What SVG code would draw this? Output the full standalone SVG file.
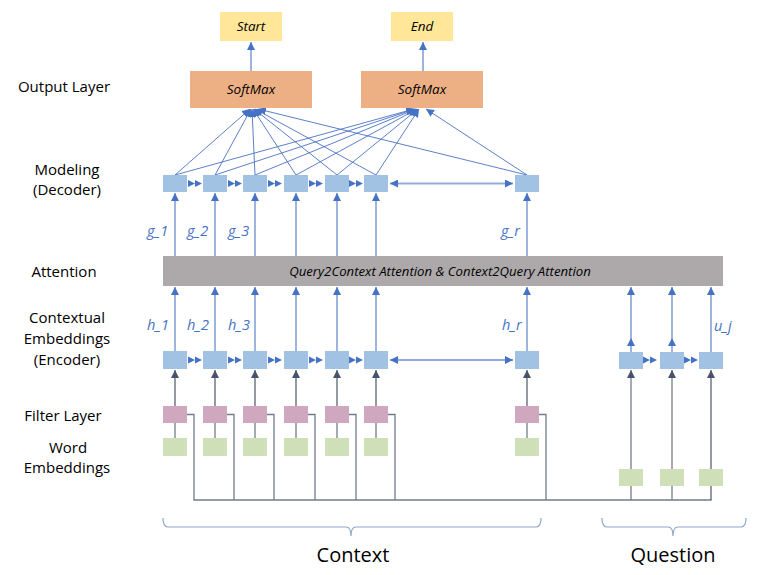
<svg xmlns="http://www.w3.org/2000/svg" width="784" height="575" viewBox="0 0 784 575">
<style>
.lbl{font-family:"Open Sans","Liberation Sans",sans-serif;font-size:15px;fill:#000;text-anchor:middle}
.big{font-family:"Open Sans","Liberation Sans",sans-serif;font-size:20px;fill:#000;text-anchor:middle}
.it{font-family:"Open Sans","Liberation Sans",sans-serif;font-style:italic;font-size:13.5px;fill:#000;text-anchor:middle}
.var{font-family:"Open Sans","Liberation Sans",sans-serif;font-style:italic;font-size:14.5px;fill:#4472C4}
.out{fill:#FFE699}
.sm{fill:#EDB085}
.blue{fill:#A2C2E4}
.pink{fill:#CFA8C0}
.green{fill:#CFE0B9}
.att{fill:#ADA9AA}
.ba{stroke:#5B82C8;stroke-width:1.2;fill:none}
.fan{stroke:#4A72C2;stroke-width:0.9;fill:none}
.da{stroke:#4E586A;stroke-width:1.2;fill:none}
.gr{stroke:#737B8A;stroke-width:1.3;fill:none}
.brace{stroke:#8EA6CC;stroke-width:1.2;fill:none}
.chain{fill:#4472C4}
.long{stroke:#93ABD8;stroke-width:2;fill:none}
</style>
<defs>
<marker id="ab" markerUnits="userSpaceOnUse" markerWidth="9" markerHeight="8" refX="8" refY="4" orient="auto-start-reverse">
<path d="M0,0 L8,4 L0,8 z" fill="#4472C4"/>
</marker>
<marker id="ad" markerUnits="userSpaceOnUse" markerWidth="9" markerHeight="8" refX="8" refY="4" orient="auto">
<path d="M0,0 L8,4 L0,8 z" fill="#44546A"/>
</marker>
</defs>

<g id="row-labels">
<text class="lbl" x="64" y="92">Output Layer</text>
<text class="lbl" x="67" y="175">Modeling</text>
<text class="lbl" x="67" y="195">(Decoder)</text>
<text class="lbl" x="64" y="277">Attention</text>
<text class="lbl" x="67" y="323">Contextual</text>
<text class="lbl" x="67" y="344">Embeddings</text>
<text class="lbl" x="67" y="365">(Encoder)</text>
<text class="lbl" x="63" y="421">Filter Layer</text>
<text class="lbl" x="68" y="453">Word</text>
<text class="lbl" x="67" y="473">Embeddings</text>
</g>

<g id="connectors">
<line class="ba" x1="251" y1="71" x2="251" y2="42" marker-end="url(#ab)"/>
<line class="ba" x1="423" y1="71" x2="423" y2="42" marker-end="url(#ab)"/>
<line class="fan" x1="175" y1="175" x2="250" y2="109" marker-end="url(#ab)"/>
<line class="fan" x1="215" y1="175" x2="251" y2="109" marker-end="url(#ab)"/>
<line class="fan" x1="255" y1="175" x2="252" y2="109" marker-end="url(#ab)"/>
<line class="fan" x1="296" y1="175" x2="253" y2="109" marker-end="url(#ab)"/>
<line class="fan" x1="337" y1="175" x2="254" y2="109" marker-end="url(#ab)"/>
<line class="fan" x1="376" y1="175" x2="255" y2="109" marker-end="url(#ab)"/>
<line class="fan" x1="527" y1="175" x2="258" y2="109" marker-end="url(#ab)"/>
<line class="fan" x1="175" y1="175" x2="414" y2="109" marker-end="url(#ab)"/>
<line class="fan" x1="215" y1="175" x2="415" y2="109" marker-end="url(#ab)"/>
<line class="fan" x1="255" y1="175" x2="416" y2="109" marker-end="url(#ab)"/>
<line class="fan" x1="296" y1="175" x2="417" y2="109" marker-end="url(#ab)"/>
<line class="fan" x1="337" y1="175" x2="418" y2="109" marker-end="url(#ab)"/>
<line class="fan" x1="376" y1="175" x2="419" y2="109" marker-end="url(#ab)"/>
<line class="fan" x1="527" y1="175" x2="426" y2="109" marker-end="url(#ab)"/>
<path class="chain" d="M188,180 L195,183.5 L188,187 z M195,180 L202,183.5 L195,187 z"/>
<path class="chain" d="M228,180 L235,183.5 L228,187 z M235,180 L242,183.5 L235,187 z"/>
<path class="chain" d="M268,180 L275,183.5 L268,187 z M275,180 L282,183.5 L275,187 z"/>
<path class="chain" d="M309,180 L316,183.5 L309,187 z M316,180 L323,183.5 L316,187 z"/>
<path class="chain" d="M349,180 L356,183.5 L349,187 z M356,180 L363,183.5 L356,187 z"/>
<line class="long" x1="390" y1="183.5" x2="513" y2="183.5" marker-start="url(#ab)" marker-end="url(#ab)"/>
<line class="ba" x1="175" y1="256" x2="175" y2="193" marker-end="url(#ab)"/>
<line class="ba" x1="215" y1="256" x2="215" y2="193" marker-end="url(#ab)"/>
<line class="ba" x1="255" y1="256" x2="255" y2="193" marker-end="url(#ab)"/>
<line class="ba" x1="296" y1="256" x2="296" y2="193" marker-end="url(#ab)"/>
<line class="ba" x1="337" y1="256" x2="337" y2="193" marker-end="url(#ab)"/>
<line class="ba" x1="376" y1="256" x2="376" y2="193" marker-end="url(#ab)"/>
<line class="ba" x1="527" y1="256" x2="527" y2="193" marker-end="url(#ab)"/>
<line class="ba" x1="175" y1="351" x2="175" y2="287" marker-end="url(#ab)"/>
<line class="ba" x1="215" y1="351" x2="215" y2="287" marker-end="url(#ab)"/>
<line class="ba" x1="255" y1="351" x2="255" y2="287" marker-end="url(#ab)"/>
<line class="ba" x1="296" y1="351" x2="296" y2="287" marker-end="url(#ab)"/>
<line class="ba" x1="337" y1="351" x2="337" y2="287" marker-end="url(#ab)"/>
<line class="ba" x1="376" y1="351" x2="376" y2="287" marker-end="url(#ab)"/>
<line class="ba" x1="527" y1="351" x2="527" y2="287" marker-end="url(#ab)"/>
<line class="ba" x1="631" y1="352" x2="631" y2="338" marker-end="url(#ab)"/>
<line class="ba" x1="631" y1="338" x2="631" y2="287" marker-end="url(#ab)"/>
<line class="ba" x1="672" y1="352" x2="672" y2="338" marker-end="url(#ab)"/>
<line class="ba" x1="672" y1="338" x2="672" y2="287" marker-end="url(#ab)"/>
<line class="ba" x1="711" y1="352" x2="711" y2="287" marker-end="url(#ab)"/>
<path class="chain" d="M188,356.5 L195,360 L188,363.5 z M195,356.5 L202,360 L195,363.5 z"/>
<path class="chain" d="M228,356.5 L235,360 L228,363.5 z M235,356.5 L242,360 L235,363.5 z"/>
<path class="chain" d="M268,356.5 L275,360 L268,363.5 z M275,356.5 L282,360 L275,363.5 z"/>
<path class="chain" d="M309,356.5 L316,360 L309,363.5 z M316,356.5 L323,360 L316,363.5 z"/>
<path class="chain" d="M349,356.5 L356,360 L349,363.5 z M356,356.5 L363,360 L356,363.5 z"/>
<line class="long" x1="390" y1="360" x2="513" y2="360" marker-start="url(#ab)" marker-end="url(#ab)"/>
<path class="chain" d="M643,356.5 L650,360 L643,363.5 z M650,356.5 L657,360 L650,363.5 z"/>
<path class="chain" d="M684,356.5 L691,360 L684,363.5 z M691,356.5 L698,360 L691,363.5 z"/>
<line class="da" x1="175" y1="406" x2="175" y2="370" marker-end="url(#ad)"/>
<line class="da" x1="215" y1="406" x2="215" y2="370" marker-end="url(#ad)"/>
<line class="da" x1="255" y1="406" x2="255" y2="370" marker-end="url(#ad)"/>
<line class="da" x1="296" y1="406" x2="296" y2="370" marker-end="url(#ad)"/>
<line class="da" x1="337" y1="406" x2="337" y2="370" marker-end="url(#ad)"/>
<line class="da" x1="376" y1="406" x2="376" y2="370" marker-end="url(#ad)"/>
<line class="da" x1="527" y1="406" x2="527" y2="370" marker-end="url(#ad)"/>
<line class="gr" x1="175" y1="423" x2="175" y2="438"/>
<line class="gr" x1="215" y1="423" x2="215" y2="438"/>
<line class="gr" x1="255" y1="423" x2="255" y2="438"/>
<line class="gr" x1="296" y1="423" x2="296" y2="438"/>
<line class="gr" x1="337" y1="423" x2="337" y2="438"/>
<line class="gr" x1="376" y1="423" x2="376" y2="438"/>
<line class="gr" x1="527" y1="423" x2="527" y2="438"/>
<path class="gr" d="M187,414.5 H194 V500"/>
<path class="gr" d="M227,414.5 H234 V500"/>
<path class="gr" d="M267,414.5 H274 V500"/>
<path class="gr" d="M308,414.5 H315 V500"/>
<path class="gr" d="M349,414.5 H356 V500"/>
<path class="gr" d="M388,414.5 H395 V500"/>
<path class="gr" d="M539,414.5 H546 V500"/>
<line class="gr" x1="193.4" y1="500" x2="711.6" y2="500"/>
<line class="gr" x1="631" y1="500" x2="631" y2="370" marker-end="url(#ad)"/>
<line class="gr" x1="672" y1="500" x2="672" y2="370" marker-end="url(#ad)"/>
<line class="da" x1="711" y1="500" x2="711" y2="370" marker-end="url(#ad)"/>
</g>

<g id="start"><rect class="out" x="220" y="12" width="62" height="29"/><text class="it" x="251" y="31">Start</text></g>
<g id="end"><rect class="out" x="391" y="12" width="62" height="29"/><text class="it" x="422" y="31">End</text></g>
<g id="softmax-start"><rect class="sm" x="190" y="71" width="122" height="37"/><text class="it" x="251" y="94">SoftMax</text></g>
<g id="softmax-end"><rect class="sm" x="361" y="71" width="122" height="37"/><text class="it" x="422" y="94">SoftMax</text></g>

<g id="modeling">
<rect class="blue" x="163" y="175" width="24" height="17"/>
<rect class="blue" x="203" y="175" width="24" height="17"/>
<rect class="blue" x="243" y="175" width="24" height="17"/>
<rect class="blue" x="284" y="175" width="24" height="17"/>
<rect class="blue" x="325" y="175" width="24" height="17"/>
<rect class="blue" x="364" y="175" width="24" height="17"/>
<rect class="blue" x="515" y="175" width="24" height="17"/>
</g>

<g id="g-labels">
<text class="var" x="147" y="236">g_1</text>
<text class="var" x="187" y="236">g_2</text>
<text class="var" x="228" y="236">g_3</text>
<text class="var" x="501" y="236">g_r</text>
</g>

<g id="attention">
<rect class="att" x="163" y="256" width="560" height="30"/>
<text class="it" x="440" y="275.5" style="font-size:13.2px">Query2Context Attention &amp; Context2Query Attention</text>
</g>

<g id="h-labels">
<text class="var" x="147" y="330">h_1</text>
<text class="var" x="187" y="330">h_2</text>
<text class="var" x="228" y="330">h_3</text>
<text class="var" x="502" y="330">h_r</text>
<text class="var" x="714" y="331">u_j</text>
</g>

<g id="encoder">
<rect class="blue" x="163" y="351" width="24" height="18"/>
<rect class="blue" x="203" y="351" width="24" height="18"/>
<rect class="blue" x="243" y="351" width="24" height="18"/>
<rect class="blue" x="284" y="351" width="24" height="18"/>
<rect class="blue" x="325" y="351" width="24" height="18"/>
<rect class="blue" x="364" y="351" width="24" height="18"/>
<rect class="blue" x="515" y="351" width="24" height="18"/>
<rect class="blue" x="619" y="352" width="24" height="17"/>
<rect class="blue" x="660" y="352" width="24" height="17"/>
<rect class="blue" x="699" y="352" width="24" height="17"/>
</g>

<g id="filter">
<rect class="pink" x="163" y="406" width="24" height="17"/>
<rect class="pink" x="203" y="406" width="24" height="17"/>
<rect class="pink" x="243" y="406" width="24" height="17"/>
<rect class="pink" x="284" y="406" width="24" height="17"/>
<rect class="pink" x="325" y="406" width="24" height="17"/>
<rect class="pink" x="364" y="406" width="24" height="17"/>
<rect class="pink" x="515" y="406" width="24" height="17"/>
</g>

<g id="word-embeddings">
<rect class="green" x="163" y="438" width="24" height="18"/>
<rect class="green" x="203" y="438" width="24" height="18"/>
<rect class="green" x="243" y="438" width="24" height="18"/>
<rect class="green" x="284" y="438" width="24" height="18"/>
<rect class="green" x="325" y="438" width="24" height="18"/>
<rect class="green" x="364" y="438" width="24" height="18"/>
<rect class="green" x="515" y="438" width="24" height="18"/>
<rect class="green" x="619" y="469" width="24" height="17"/>
<rect class="green" x="660" y="469" width="24" height="17"/>
<rect class="green" x="699" y="469" width="24" height="17"/>
</g>

<g id="context-brace">
<path class="brace" d="M163,518 Q163,527 168,527 H346 Q351,527 351,536 Q351,527 356,527 H536 Q541,527 541,518"/>
<text class="big" x="353" y="562">Context</text>
</g>
<g id="question-brace">
<path class="brace" d="M602,518 Q602,527 607,527 H668 Q673,527 673,536 Q673,527 678,527 H741 Q746,527 746,518"/>
<text class="big" x="673" y="562">Question</text>
</g>
</svg>
